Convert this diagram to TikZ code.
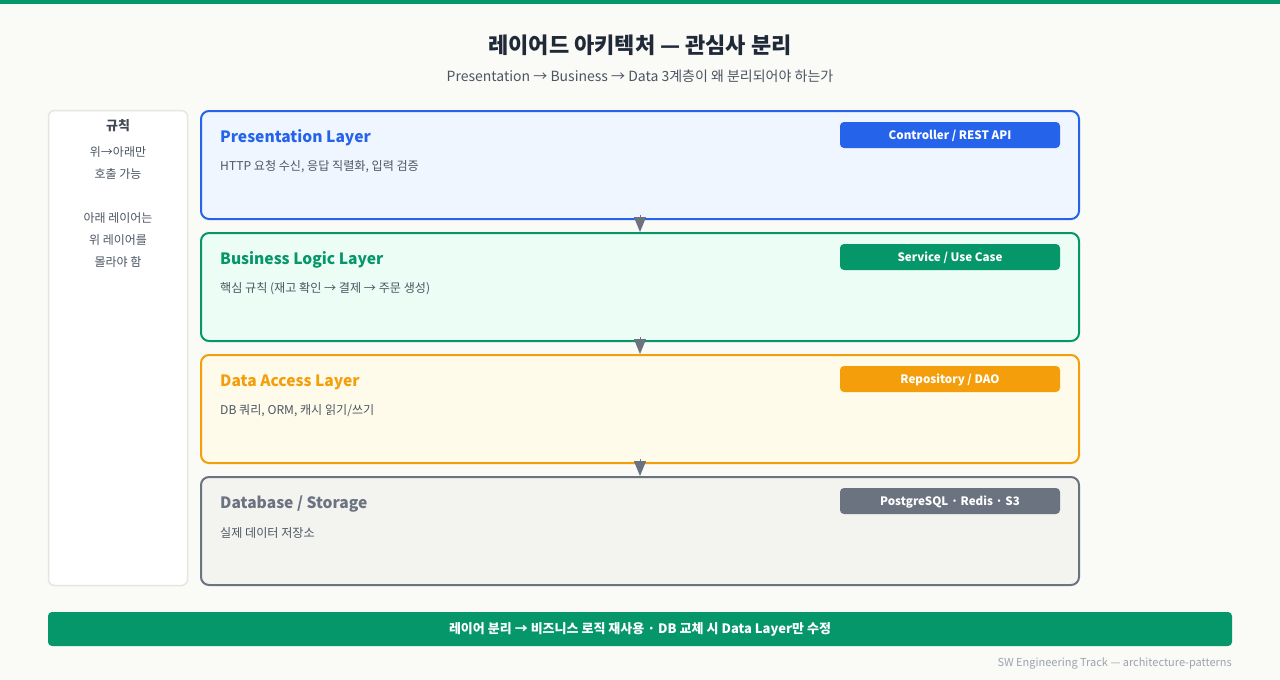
\documentclass[tikz,border=0pt]{standalone}
\usepackage{fontspec}
\setmainfont{Noto Sans CJK KR}
\usepackage{tikz}
\usetikzlibrary{arrows.meta}

\definecolor{pagebg}{HTML}{FAFAF7}
\definecolor{topgreen}{HTML}{059669}
\definecolor{inkdark}{HTML}{1F2937}
\definecolor{inkgray}{HTML}{4B5563}
\definecolor{inklight}{HTML}{9CA3AF}
\definecolor{panelline}{HTML}{E5E7DF}
\definecolor{blueline}{HTML}{2563EB}
\definecolor{bluefill}{HTML}{EFF6FF}
\definecolor{greenline}{HTML}{059669}
\definecolor{greenfill}{HTML}{ECFDF5}
\definecolor{amberline}{HTML}{F59E0B}
\definecolor{amberfill}{HTML}{FEFBEA}
\definecolor{grayline}{HTML}{6B7280}
\definecolor{grayfill}{HTML}{F3F4EF}

\begin{document}
\begin{tikzpicture}[x=1pt,y=-1pt]
\tikzset{layer/.style = {shape=rectangle,rounded corners=8pt,line width=2pt,
minimum width=878pt,minimum height=108pt,inner sep=0pt}}
\tikzset{ltitle/.style = {anchor=west,inner sep=0pt,font=\fontsize{15.6}{18}\selectfont\bfseries}}
\tikzset{ldesc/.style = {anchor=west,inner sep=0pt,text=inkgray,font=\fontsize{12.1}{14}\selectfont}}
\tikzset{badge/.style = {shape=rectangle,rounded corners=4pt,minimum width=220pt,
minimum height=26pt,inner sep=0pt,text height=8.5pt,text depth=0pt,text=white,
font=\fontsize{11.6}{14}\selectfont\bfseries}}
\tikzset{rule/.style = {inner sep=0pt,text=inkgray,font=\fontsize{12}{14}\selectfont}}
\tikzset{edge/.style = {-{Triangle[width=12pt,length=15pt]},draw=grayline,fill=grayline,line width=1pt}}

% canvas
\fill[pagebg] (0,0) rectangle (1280,680);
\useasboundingbox (0,0) rectangle (1280,680);
\fill[topgreen] (0,0) rectangle (1280,4);

% heading
\node[inner sep=0pt,text=inkdark,font=\fontsize{22}{25}\selectfont\bfseries] (title) at (640,45)
  {레이어드 아키텍처 — 관심사 분리};
\node[inner sep=0pt,text=inkgray,font=\fontsize{14}{16}\selectfont] (subtitle) at (640,76)
  {Presentation → Business → Data 3계층이 왜 분리되어야 하는가};

% rules panel
\node[shape=rectangle,rounded corners=6pt,draw=panelline,line width=1.5pt,fill=white,
  minimum width=139pt,minimum height=475pt] (panel) at (118,348) {};
\node[inner sep=0pt,text=inkdark!85,font=\fontsize{13}{15}\selectfont\bfseries] (rules) at (118,126) {규칙};
\node[rule] (r1) at (118,152) {위→아래만};
\node[rule] (r2) at (118,174) {호출 가능};
\node[rule] (r3) at (118,218) {아래 레이어는};
\node[rule] (r4) at (118,240) {위 레이어를};
\node[rule] (r5) at (118,262) {몰라야 함};

% layers
\node[layer,draw=blueline,fill=bluefill] (pres) at (640,165) {};
\node[layer,draw=greenline,fill=greenfill] (biz) at (640,287) {};
\node[layer,draw=amberline,fill=amberfill] (data) at (640,409) {};
\node[layer,draw=grayline,fill=grayfill] (store) at (640,531) {};

\node[ltitle,text=blueline] (prestitle) at (220,138) {Presentation Layer};
\node[ldesc] (presdesc) at (220,167) {HTTP 요청 수신, 응답 직렬화, 입력 검증};
\node[badge,fill=blueline] (presbadge) at (950,135) {Controller / REST API};

\node[ltitle,text=greenline] (biztitle) at (220,260) {Business Logic Layer};
\node[ldesc] (bizdesc) at (220,289) {핵심 규칙 (재고 확인 → 결제 → 주문 생성)};
\node[badge,fill=greenline] (bizbadge) at (950,257) {Service / Use Case};

\node[ltitle,text=amberline] (datatitle) at (220,382) {Data Access Layer};
\node[ldesc] (datadesc) at (220,411) {DB 쿼리, ORM, 캐시 읽기/쓰기};
\node[badge,fill=amberline] (databadge) at (950,379) {Repository / DAO};

\node[ltitle,text=grayline] (storetitle) at (220,504) {Database / Storage};
\node[ldesc] (storedesc) at (220,533) {실제 데이터 저장소};
\node[badge,fill=grayline] (storebadge) at (950,501) {PostgreSQL · Redis · S3};

%edges
\draw[edge] ([yshift=5pt]pres.south) -- (biz.north);
\draw[edge] ([yshift=5pt]biz.south) -- (data.north);
\draw[edge] ([yshift=5pt]data.south) -- (store.north);

% summary
\node[shape=rectangle,rounded corners=4pt,fill=topgreen,minimum width=1184pt,minimum height=34pt,
  inner sep=0pt,text height=9.5pt,text depth=0pt,text=white,font=\fontsize{13}{15}\selectfont\bfseries]
  (summary) at (640,629) {레이어 분리 → 비즈니스 로직 재사용 · DB 교체 시 Data Layer만 수정};
\node[anchor=east,inner sep=0pt,text=inklight,font=\fontsize{11}{13}\selectfont] (footer) at (1232,663)
  {SW Engineering Track — architecture-patterns};
\end{tikzpicture}
\end{document}
